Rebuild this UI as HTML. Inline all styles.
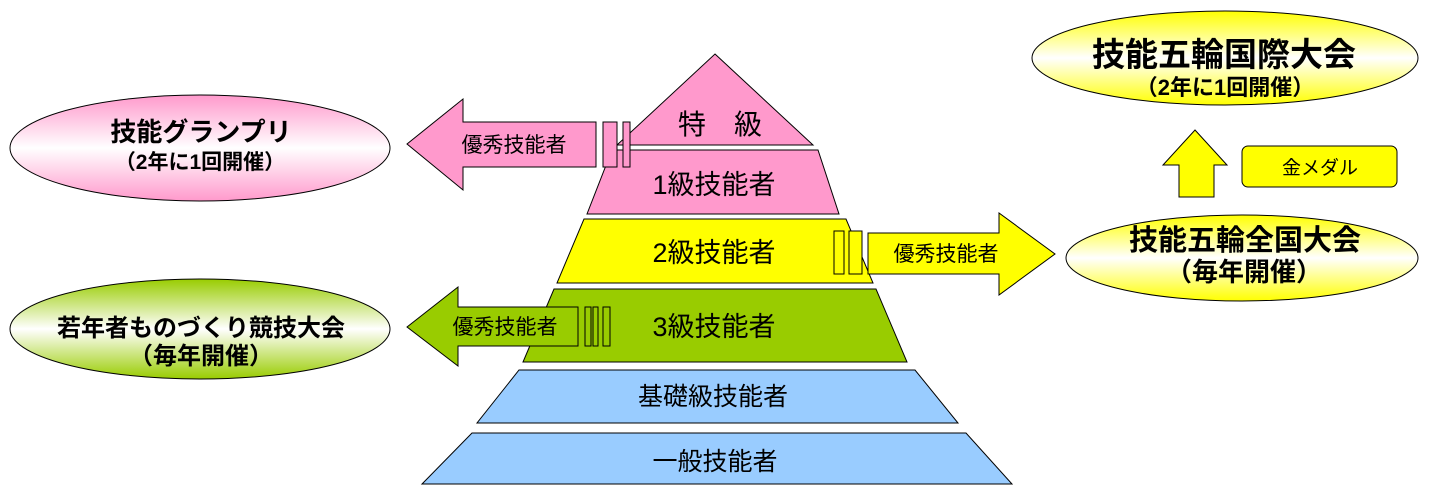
<!DOCTYPE html>
<html><head><meta charset="utf-8"><style>
html,body{margin:0;padding:0;background:#fff;width:1432px;height:489px;overflow:hidden}
svg text{font-family:"Liberation Sans","Noto Sans CJK JP",sans-serif;fill:#000}
</style></head><body>
<svg width="1432" height="489" viewBox="0 0 1432 489" xmlns="http://www.w3.org/2000/svg">
<defs>
<linearGradient id="gp" x1="0" y1="0" x2="0" y2="1"><stop offset="0" stop-color="#ff99cc"/><stop offset="0.5" stop-color="#fff"/><stop offset="1" stop-color="#ff99cc"/></linearGradient>
<linearGradient id="gg" x1="0" y1="0" x2="0" y2="1"><stop offset="0" stop-color="#99cc00"/><stop offset="0.5" stop-color="#fff"/><stop offset="1" stop-color="#99cc00"/></linearGradient>
<linearGradient id="gy" x1="0" y1="0" x2="0" y2="1"><stop offset="0" stop-color="#ffff00"/><stop offset="0.5" stop-color="#fff"/><stop offset="1" stop-color="#ffff00"/></linearGradient>
</defs>
<g stroke="#000" stroke-width="1">
<polygon points="715,54 813,145 617,145" fill="#ff99cc"/>
<polygon points="612,150 818,150 839,214 587,214" fill="#ff99cc"/>
<polygon points="584,219 846,219 873,283 557,283" fill="#ffff00"/>
<polygon points="554,289 876,289 907,362 523,362" fill="#99cc00"/>
<polygon points="519,370 915,370 958,423 477,423" fill="#99ccff"/>
<polygon points="472,433 966,433 1012,484 422,484" fill="#99ccff"/>
<polygon points="407,144 463,99 463,122 596,122 596,167 463,167 463,190" fill="#ff99cc"/>
<rect x="603" y="122" width="14" height="45" fill="#ff99cc"/>
<rect x="623" y="122" width="7" height="45" fill="#ff99cc"/>
<polygon points="407,327 458,287 458,307 578,307 578,346 458,346 458,366" fill="#99cc00"/>
<rect x="585" y="307" width="6" height="39" fill="#99cc00"/>
<rect x="593" y="307" width="5" height="39" fill="#99cc00"/>
<rect x="603" y="307" width="7" height="39" fill="#99cc00"/>
<rect x="834" y="231" width="10" height="43" fill="#ffff00"/>
<rect x="849" y="231" width="13" height="43" fill="#ffff00"/>
<polygon points="868,233 999,233 999,213 1055,254 999,295 999,274 868,274" fill="#ffff00"/>
<polygon points="1195,130 1227,165 1214,165 1214,197 1179,197 1179,165 1163,165" fill="#ffff00"/>
<rect x="1242" y="146" width="155" height="41" rx="6" fill="#ffff00"/>
<ellipse cx="200" cy="148" rx="190" ry="53" fill="url(#gp)"/>
<ellipse cx="200" cy="329" rx="190" ry="50" fill="url(#gg)"/>
<ellipse cx="1225" cy="58" rx="193" ry="47" fill="url(#gy)"/>
<ellipse cx="1242" cy="258" rx="176" ry="43" fill="url(#gy)"/>
</g>
<g text-anchor="middle">
<text x="720" y="134" font-size="28">特　級</text>
<text x="714" y="194" font-size="27">1級技能者</text>
<text x="714" y="262" font-size="27">2級技能者</text>
<text x="714" y="336" font-size="27">3級技能者</text>
<text x="713" y="405" font-size="25">基礎級技能者</text>
<text x="715" y="470" font-size="25">一般技能者</text>
<text x="514" y="152" font-size="21">優秀技能者</text>
<text x="505" y="334" font-size="21">優秀技能者</text>
<text x="946" y="261" font-size="21">優秀技能者</text>
<text x="1320" y="174" font-size="19">金メダル</text>
<text x="201" y="141" font-size="26" font-weight="bold">技能グランプリ</text>
<text x="200" y="169" font-size="21" font-weight="bold">（2年に1回開催）</text>
<text x="201" y="336" font-size="24" font-weight="bold">若年者ものづくり競技大会</text>
<text x="201" y="364" font-size="24" font-weight="bold">（毎年開催）</text>
<text x="1224" y="66" font-size="33" font-weight="bold">技能五輪国際大会</text>
<text x="1225" y="95" font-size="22" font-weight="bold">（2年に1回開催）</text>
<text x="1245" y="250" font-size="29" font-weight="bold">技能五輪全国大会</text>
<text x="1244" y="281" font-size="26" font-weight="bold">（毎年開催）</text>
</g>
</svg>
</body></html>
